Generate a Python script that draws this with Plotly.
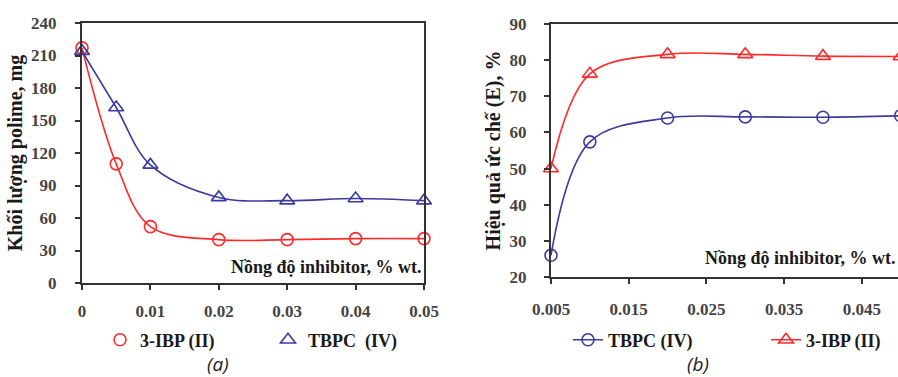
import plotly.graph_objects as go

# ---- data ----
# (a) polymer mass vs inhibitor concentration
a_x = [0, 0.005, 0.01, 0.02, 0.03, 0.04, 0.05]
a_ibp = [217, 110, 52, 40, 40, 41, 41]          # 3-IBP (II)
a_tbpc = [214, 162, 109, 79, 76, 78, 76]        # TBPC (IV)
a_xticks = [0, 0.01, 0.02, 0.03, 0.04, 0.05]
a_xticklabels = ["0", "0.01", "0.02", "0.03", "0.04", "0.05"]
a_yticks = [0, 30, 60, 90, 120, 150, 180, 210, 240]

# (b) inhibition efficiency vs inhibitor concentration
b_x = [0.005, 0.01, 0.02, 0.03, 0.04, 0.05]
b_tbpc = [26, 57.4, 64, 64.3, 64.2, 64.6]       # TBPC (IV)
b_ibp = [50, 76.2, 81.6, 81.6, 81.1, 81]        # 3-IBP (II)
b_xticks = [0.005, 0.015, 0.025, 0.035, 0.045]
b_xticklabels = ["0.005", "0.015", "0.025", "0.035", "0.045"]
b_yticks = [20, 30, 40, 50, 60, 70, 80, 90]

RED = "#FF2A2A"
BLUE = "#3B3B9E"
AX = "#333333"
VIEW_W = 898              # visible window; the right panel runs past its edge, as in the source
W, H = 906, 377
SERIF = "Liberation Serif"

def px_x(p):
    return p / W

def px_y(p):
    return 1 - p / H

fig = go.Figure()

# ---- (a) ----
fig.add_trace(go.Scatter(x=a_x, y=a_ibp, mode="lines", line=dict(color=RED, width=1.6, shape="spline", smoothing=1.0),
                         xaxis="x", yaxis="y", showlegend=False, hoverinfo="skip"))
fig.add_trace(go.Scatter(x=a_x, y=a_tbpc, mode="lines", line=dict(color=BLUE, width=1.6, shape="spline", smoothing=1.0),
                         xaxis="x", yaxis="y", showlegend=False, hoverinfo="skip"))
fig.add_trace(go.Scatter(x=a_x, y=a_ibp, mode="markers", name="3-IBP (II)",
                         marker=dict(symbol="circle-open", size=12, color=RED, line=dict(width=1.6)),
                         xaxis="x", yaxis="y", legend="legend", cliponaxis=False))
fig.add_trace(go.Scatter(x=a_x, y=a_tbpc, mode="markers", name="TBPC  (IV)",
                         marker=dict(symbol="triangle-up-open", size=13, color=BLUE, line=dict(width=1.6)),
                         xaxis="x", yaxis="y", legend="legend2", cliponaxis=False))

# ---- (b) ----
fig.add_trace(go.Scatter(x=b_x, y=b_tbpc, mode="lines+markers", name="TBPC (IV)",
                         line=dict(color=BLUE, width=1.6, shape="spline", smoothing=1.0),
                         marker=dict(symbol="circle-open", size=12, color=BLUE, line=dict(width=1.6)),
                         xaxis="x2", yaxis="y2", legend="legend3", cliponaxis=False))
fig.add_trace(go.Scatter(x=b_x, y=b_ibp, mode="lines+markers", name="3-IBP (II)",
                         line=dict(color=RED, width=1.6, shape="spline", smoothing=1.0),
                         marker=dict(symbol="triangle-up-open", size=13, color=RED, line=dict(width=1.6)),
                         xaxis="x2", yaxis="y2", legend="legend4", cliponaxis=False))

tickfont = dict(family=SERIF, size=17, color="#444444", weight="bold")
common = dict(showgrid=False, zeroline=False, showline=True, linecolor=AX, linewidth=2,
              ticks="outside", ticklen=5, tickwidth=1.5, tickcolor=AX, tickfont=tickfont,
              automargin=False)

b_right_px = 906
b_xmax = 0.005 + (b_right_px - 551) / 7770.0

titlefont = dict(family=SERIF, size=20, color="#1a1a1a", weight="bold")

fig.update_layout(
    width=W, height=H,
    margin=dict(l=0, r=0, t=0, b=0),
    paper_bgcolor="white", plot_bgcolor="white",
    xaxis=dict(domain=[px_x(82), px_x(424)], range=[0, 0.05], tickvals=a_xticks, ticktext=a_xticklabels,
               mirror=True, anchor="y", ticklabelstandoff=7, **common),
    yaxis=dict(domain=[px_y(283), px_y(23)], range=[0, 240], tickvals=a_yticks,
               mirror=True, anchor="x", ticklabelstandoff=15,
               title=dict(text="Khối lượng polime, mg", font=titlefont, standoff=3), **common),
    xaxis2=dict(domain=[px_x(551), px_x(b_right_px)], range=[0.005, b_xmax], tickvals=b_xticks, ticktext=b_xticklabels,
                mirror=True, anchor="y2", ticklabelstandoff=11, **common),
    yaxis2=dict(domain=[px_y(277), px_y(24)], range=[20, 90], tickvals=b_yticks,
                mirror=False, anchor="x2", ticklabelstandoff=14,
                title=dict(text="Hiệu quả ức chế (E), %", font=titlefont, standoff=4), **common),
)

legfont = dict(family=SERIF, size=18, color="#1a1a1a", weight="bold")
def leg(xp, yp):
    return dict(x=px_x(xp), y=px_y(yp), xanchor="left", yanchor="middle", orientation="h",
                font=legfont, bgcolor="rgba(0,0,0,0)", borderwidth=0, itemwidth=30)

fig.update_layout(
    legend=leg(100, 340), legend2=leg(268, 340),
    legend3=leg(568, 340), legend4=leg(766, 340),
)

annfont = dict(family=SERIF, size=18, color="#1a1a1a", weight="bold")
fig.add_annotation(x=px_x(423), y=px_y(267), xref="paper", yref="paper", xanchor="right", yanchor="middle",
                   text="Nồng độ inhibitor, % wt.", showarrow=False, font=annfont)
fig.add_annotation(x=px_x(VIEW_W - 1), y=px_y(258), xref="paper", yref="paper", xanchor="right", yanchor="middle",
                   text="Nồng độ inhibitor, % wt.", showarrow=False, font=annfont)

capfont = dict(family="Open Sans", size=19, color="#222222", style="italic")
fig.add_annotation(x=px_x(218), y=px_y(364), xref="paper", yref="paper", xanchor="center", yanchor="middle",
                   text="(a)", showarrow=False, font=capfont)
fig.add_annotation(x=px_x(698), y=px_y(364), xref="paper", yref="paper", xanchor="center", yanchor="middle",
                   text="(b)", showarrow=False, font=capfont)

fig.write_html("out.html", config={"displayModeBar": False},
               post_script="document.body.style.margin='0';document.body.style.overflow='hidden';"
                           "document.documentElement.style.overflow='hidden';")
